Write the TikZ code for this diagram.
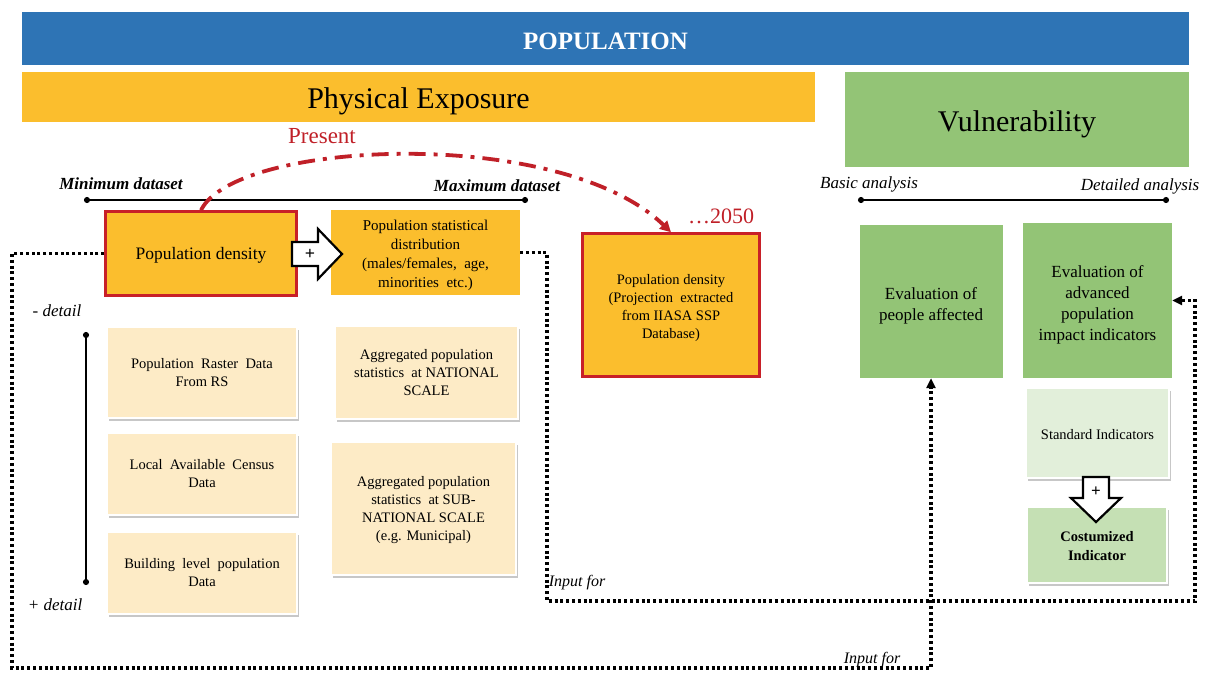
\documentclass[tikz,border=0pt]{standalone}
\usepackage{fontspec}
\setmainfont{Liberation Serif}
\usetikzlibrary{arrows.meta,shadows,calc}

\definecolor{popblue}{RGB}{46,116,181}
\definecolor{exporange}{RGB}{251,190,45}
\definecolor{boxred}{RGB}{200,32,40}
\definecolor{paleorange}{RGB}{253,235,198}
\definecolor{vulgreen}{RGB}{147,196,118}
\definecolor{palegreen}{RGB}{226,239,218}
\definecolor{midgreen}{RGB}{197,224,180}
\definecolor{textred}{RGB}{192,32,40}

\newcommand{\fs}[2]{\fontsize{#1}{#2}\selectfont}
% lower a block of centred lines without changing its box
\newcommand{\down}[2]{\raisebox{-#1}[\height][\depth]{\begin{tabular}{@{}c@{}}#2\end{tabular}}}
\newcommand{\sinktext}[2]{\raisebox{-#1}[\height][\depth]{#2}}

\begin{document}
\begin{tikzpicture}[x=1pt,y=-1pt,
  banner/.style={rectangle, inner sep=0pt, align=center},
  mainbox/.style={rectangle, fill=exporange, draw=boxred, line width=2.5pt, inner sep=2pt, align=center},
  plainbox/.style={rectangle, fill=exporange, inner sep=2pt, align=center},
  databox/.style={rectangle, fill=paleorange, draw=white, line width=2.5pt, inner sep=2pt, align=center,
    drop shadow={shadow xshift=2pt, shadow yshift=-2.5pt, opacity=0.22, fill=black},
    font=\fs{14.5}{18}},
  greenbox/.style={rectangle, fill=vulgreen, inner sep=2pt, align=center, font=\fs{17}{21}},
  indbox/.style={rectangle, draw=white, line width=2.5pt, inner sep=2pt, align=center,
    drop shadow={shadow xshift=2pt, shadow yshift=-2.5pt, opacity=0.22, fill=black}},
  rangeline/.style={line width=1.8pt, {Circle[length=6pt]}-{Circle[length=6pt]}},
  dotline/.style={line width=3.2pt, dash pattern=on 3pt off 2.8pt, -{Triangle[length=10pt,width=9pt]}},
  redarc/.style={textred, line width=3.8pt, dash pattern=on 17pt off 8pt on 4pt off 8pt,
    -{Triangle[length=11pt,width=11pt]}},
  blockarrow/.style={draw=black, fill=white, line width=2.2pt, line join=miter},
  lbl/.style={inner sep=0pt, font=\fs{17}{20}\itshape},
]
\useasboundingbox (0,0) rectangle (1209,673);

% headers
\node[banner, fill=popblue, minimum width=1167pt, minimum height=53pt,
      text=white, font=\fs{25}{30}\bfseries] (pop) at (605.5,38.5) {\sinktext{3pt}{POPULATION}};
\node[banner, fill=exporange, minimum width=793pt, minimum height=50pt,
      font=\fs{30}{34}] (phys) at (418.5,97) {\sinktext{4pt}{Physical Exposure}};
\node[banner, fill=vulgreen, minimum width=344pt, minimum height=95pt,
      font=\fs{30}{34}] (vul) at (1017,119.5) {\sinktext{5pt}{Vulnerability}};

% dataset range
\coordinate (minL) at (84,200);
\coordinate (maxR) at (528,200);
\draw[rangeline] (minL) -- (maxR);
\node[lbl, font=\fs{17}{20}\bfseries\itshape] (minlbl) at (121,184) {Minimum dataset};
\node[lbl, font=\fs{17}{20}\bfseries\itshape] (maxlbl) at (497,186) {Maximum dataset};

% analysis range
\coordinate (basL) at (858,200);
\coordinate (detR) at (1169,200);
\draw[rangeline] (basL) -- (detR);
\node[lbl] (baslbl) at (869,184) {Basic analysis};
\node[lbl] (detlbl) at (1140,186) {Detailed analysis};

% detail range
\coordinate (detT) at (86,332);
\coordinate (detB) at (86,585);
\draw[rangeline] (detT) -- (detB);
\node[lbl] (lessdet) at (57,311) {- detail};
\node[lbl] (moredet) at (55,605) {+ detail};

% exposure boxes
\node[mainbox, minimum width=191pt, minimum height=84pt, font=\fs{17.5}{21}] (popd) at (201,253.5)
  {\sinktext{2pt}{Population density}};
\node[plainbox, minimum width=189pt, minimum height=85pt, font=\fs{15}{19}] (stat) at (425.5,252.5)
  {\down{3pt}{Population statistical\\distribution\\(males/females,\ \ age,\\minorities\ \ etc.)}};
\node[mainbox, minimum width=177pt, minimum height=143pt, font=\fs{14.5}{18}] (proj) at (671,305)
  {\down{3pt}{Population density\\(Projection\ \ extracted\\from IIASA SSP\\Database)}};

\node[databox, minimum width=190pt, minimum height=91pt] (raster) at (202,372.5)
  {\down{1pt}{Population\ \ Raster\ \ Data\\From RS}};
\node[databox, minimum width=190pt, minimum height=82pt] (census) at (202,474)
  {\down{1pt}{Local\ \ Available\ \ Census\\Data}};
\node[databox, minimum width=190pt, minimum height=82pt] (building) at (202,573)
  {\down{1pt}{Building\ \ level\ \ population\\Data}};
\node[databox, minimum width=183pt, minimum height=93pt] (national) at (426.5,372.5)
  {\down{1pt}{Aggregated population\\statistics\ \ at NATIONAL\\SCALE}};
\node[databox, minimum width=185pt, minimum height=133pt] (subnat) at (423.5,508.5)
  {\down{1pt}{Aggregated population\\statistics\ \ at SUB-\\NATIONAL SCALE\\(e.g. Municipal)}};

% plus arrow between density and distribution
\draw[blockarrow] (292,242) -- (318,242) -- (318,229) -- (342,254) -- (318,279) -- (318,266) -- (292,266) -- cycle;
\node[inner sep=0pt, font=\fs{18}{18}\bfseries] (plusA) at (310,254) {+};

% vulnerability boxes
\node[greenbox, minimum width=143pt, minimum height=153pt] (affected) at (931,301.5)
  {\down{4pt}{Evaluation of\\people affected}};
\node[greenbox, minimum width=149pt, minimum height=155pt] (advanced) at (1097.5,300.5)
  {\down{4pt}{Evaluation of\\advanced\\population\\impact indicators}};
\node[indbox, fill=palegreen, minimum width=143pt, minimum height=90pt, font=\fs{14.5}{18}] (standard) at (1097.5,433)
  {\sinktext{2pt}{Standard Indicators}};
\node[indbox, fill=midgreen, minimum width=140pt, minimum height=76pt, font=\fs{14.5}{19}\bfseries] (custom) at (1097,545)
  {\down{2pt}{Costumized\\Indicator}};

% plus arrow between indicators
\draw[blockarrow] (1083,477) -- (1109,477) -- (1109,498) -- (1121,498) -- (1096,522) -- (1071,498) -- (1083,498) -- cycle;
\node[inner sep=0pt, font=\fs{17}{17}\bfseries] (plusB) at (1096,492) {+};

% time projection
\node[inner sep=0pt, text=textred, font=\fs{23}{26}] (present) at (322,136) {Present};
\node[inner sep=0pt, text=textred, font=\fs{22}{26}] (y2050) at (721,216) {\ldots2050};
\draw[redarc] (popd.north) .. controls (235,140) and (560,125) .. (proj.north);

% input links
\coordinate (lowL) at (12,668);
\coordinate (midB) at (547,601);
\coordinate (midR) at (1195,601);
\draw[dotline] (popd.west) -| (lowL) -| (affected.south);
\draw[dotline] (stat.east) -| (midB) -- (midR) |- (advanced.east);
\node[lbl, font=\fs{16}{18}\itshape] (inp1) at (577,583) {Input for};
\node[lbl, font=\fs{16}{18}\itshape] (inp2) at (872,660) {Input for};

\end{tikzpicture}
\end{document}
